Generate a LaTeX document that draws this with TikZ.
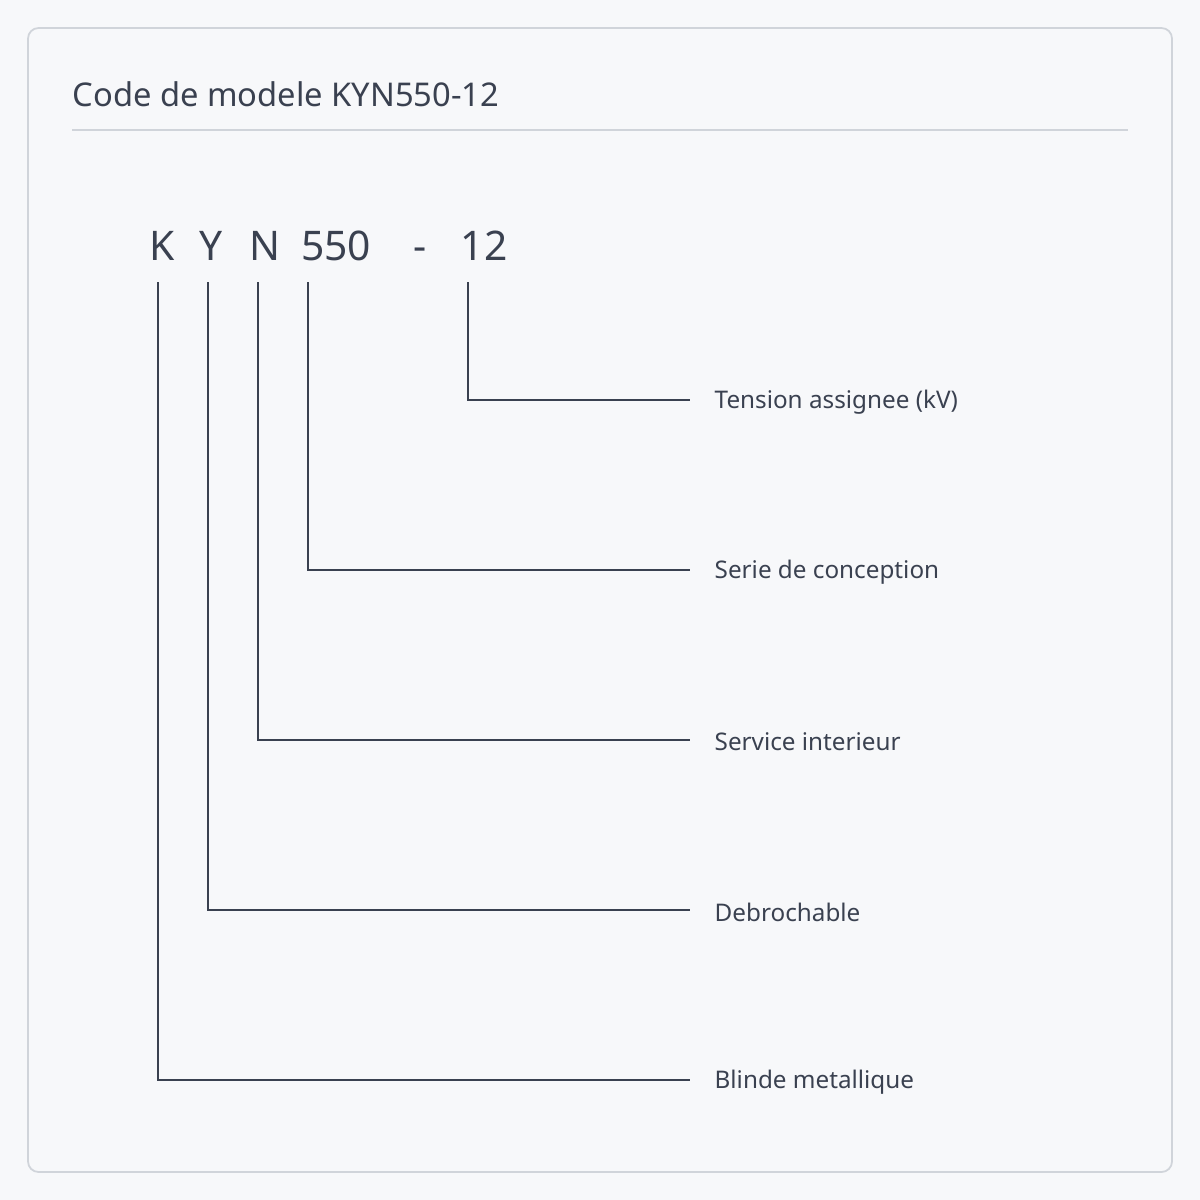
\documentclass[tikz,border=0pt]{standalone}
\usepackage{fontspec}
\setmainfont{Noto Sans}
\definecolor{bg}{HTML}{F7F8FA}
\definecolor{frame}{HTML}{D0D4DA}
\definecolor{ink}{HTML}{3A4150}
\begin{document}
\begin{tikzpicture}[x=0.01cm,y=-0.01cm,
  lead/.style={draw=ink,line width=0.45pt},
  lab/.style={anchor=west,inner sep=0,text=ink,font=\fontsize{6.9pt}{9pt}\selectfont},
  code/.style={anchor=base,inner sep=0,text=ink,font=\fontsize{11.6pt}{14pt}\selectfont}]
\fill[bg] (0,0) rectangle (1200,1200);
\useasboundingbox (0,0) rectangle (1200,1200);
\draw[frame,line width=0.5pt,rounded corners=3] (28,28) rectangle (1172,1172);
\node[anchor=base west,inner sep=0,text=ink,font=\fontsize{9.3pt}{11pt}\selectfont] (title) at (72,106) {Code de modele KYN550-12};
\draw[frame,line width=0.5pt] (72,130) -- (1128,130);
\node[code] (k) at (162,260) {K};
\node[code] (y) at (211,260) {Y};
\node[code] (n) at (265,260) {N};
\node[code] (s) at (336,260) {550};
\node[code] (d) at (420,260) {-};
\node[code] (t) at (484,260) {12};
\coordinate (k0) at (158,282); \coordinate (y0) at (208,282); \coordinate (n0) at (258,282);
\coordinate (s0) at (308,282); \coordinate (t0) at (468,282);
\node[lab] (l1) at (714,402) {Tension assignee (kV)};
\node[lab] (l2) at (714,572) {Serie de conception};
\node[lab] (l3) at (714,742) {Service interieur};
\node[lab] (l4) at (714,912) {Debrochable};
\node[lab] (l5) at (714,1082) {Blinde metallique};
\draw[lead] (t0) |- (690,400);
\draw[lead] (s0) |- (690,570);
\draw[lead] (n0) |- (690,740);
\draw[lead] (y0) |- (690,910);
\draw[lead] (k0) |- (690,1080);
\end{tikzpicture}
\end{document}
